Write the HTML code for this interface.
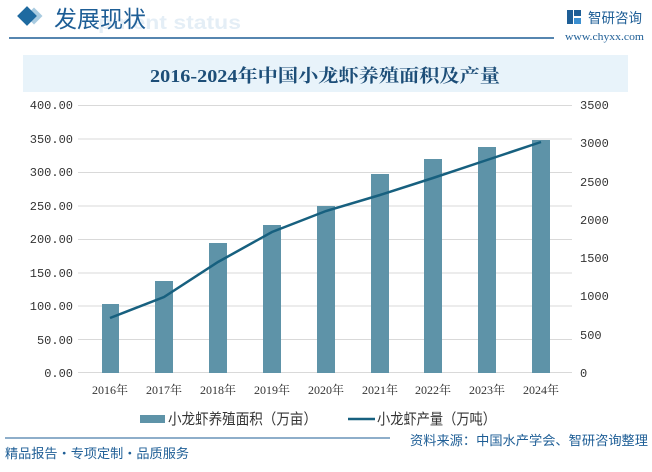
<!DOCTYPE html><html><head><meta charset="utf-8"><style>
body{margin:0;width:652px;height:472px;background:#fff;overflow:hidden;font-family:"Liberation Sans","Noto Sans CJK SC",sans-serif;position:relative}
.a{position:absolute}
</style></head><body>
<svg class="a" style="left:0;top:0" width="652" height="472">
<text x="98" y="29" font-size="19" font-weight="bold" fill="#e4eef6" textLength="143" lengthAdjust="spacingAndGlyphs" font-family="Liberation Sans">pment status</text>
<rect x="28" y="10" width="12" height="12" transform="rotate(45 34 16)" fill="#a9cbe0"/>
<rect x="20" y="9" width="14" height="14" transform="rotate(45 27 16)" fill="#1e6aa0"/>
<text x="54" y="27" font-size="23" fill="#1e5e96" font-family="Noto Sans CJK SC">发展现状</text>
<line x1="9" y1="38" x2="554" y2="38" stroke="#1e5e96" stroke-width="1.5"/>
<rect x="567" y="10" width="6" height="14" fill="#1e5e96"/>
<rect x="574" y="10" width="7" height="6" fill="#1e5e96"/>
<rect x="574" y="18" width="7" height="6" fill="#3b8fd0"/>
<text x="588" y="23" font-size="14" fill="#1e5e96" textLength="54" lengthAdjust="spacingAndGlyphs" font-family="Noto Sans CJK SC">智研咨询</text>
<text x="565" y="40" font-size="10" fill="#1e5e96" textLength="79" lengthAdjust="spacingAndGlyphs" font-family="Liberation Serif">www.chyxx.com</text>
<rect x="23" y="55" width="605" height="37" fill="#e8f3fa"/>
<text x="325" y="82" font-size="18" font-weight="bold" fill="#1d4e78" text-anchor="middle" textLength="350" lengthAdjust="spacingAndGlyphs" font-family="Liberation Serif,Noto Serif CJK SC">2016-2024年中国小龙虾养殖面积及产量</text>
<g stroke="#d9d9d9" stroke-width="1">
<line x1="78" y1="105.5" x2="572" y2="105.5"/><line x1="78" y1="139" x2="572" y2="139"/><line x1="78" y1="172.5" x2="572" y2="172.5"/><line x1="78" y1="206" x2="572" y2="206"/><line x1="78" y1="239.5" x2="572" y2="239.5"/><line x1="78" y1="273" x2="572" y2="273"/><line x1="78" y1="306" x2="572" y2="306"/><line x1="78" y1="339.5" x2="572" y2="339.5"/><line x1="78" y1="372.5" x2="572" y2="372.5"/>
</g>
<g font-size="12" fill="#333" font-family="Liberation Mono,Noto Serif CJK SC">
<g text-anchor="end">
<text x="73" y="109">400.00</text><text x="73" y="143">350.00</text><text x="73" y="176">300.00</text><text x="73" y="210">250.00</text><text x="73" y="243">200.00</text><text x="73" y="277">150.00</text><text x="73" y="310">100.00</text><text x="73" y="344">50.00</text><text x="73" y="377">0.00</text>
</g>
<g>
<text x="580" y="109">3500</text><text x="580" y="147">3000</text><text x="580" y="186">2500</text><text x="580" y="224">2000</text><text x="580" y="262">1500</text><text x="580" y="300">1000</text><text x="580" y="339">500</text><text x="580" y="377">0</text>
</g></g>
<g font-size="12" fill="#333" font-family="Liberation Serif,Noto Serif CJK SC" text-anchor="middle">
<text x="110" y="394">2016年</text><text x="164" y="394">2017年</text><text x="218" y="394">2018年</text><text x="272" y="394">2019年</text><text x="326" y="394">2020年</text><text x="380" y="394">2021年</text><text x="433" y="394">2022年</text><text x="487" y="394">2023年</text><text x="541" y="394">2024年</text>
</g>
<g fill="#5e93a8">
<rect x="102" y="304" width="17" height="69"/><rect x="155" y="281" width="18" height="92"/><rect x="209" y="243" width="18" height="130"/><rect x="263" y="225" width="18" height="148"/><rect x="317" y="206" width="18" height="167"/><rect x="371" y="174" width="18" height="199"/><rect x="424" y="159" width="18" height="214"/><rect x="478" y="147" width="18" height="226"/><rect x="532" y="140" width="18" height="233"/>
</g>
<polyline points="110,318 164,297 218,262 272,232 326,211 380,195 433,178 487,160 541,142" fill="none" stroke="#17607f" stroke-width="2.5"/>
<rect x="140" y="415" width="25" height="8" fill="#5e93a8"/>
<text x="168" y="424" font-size="15" fill="#333" textLength="149" lengthAdjust="spacingAndGlyphs" font-family="Noto Sans CJK SC">小龙虾养殖面积（万亩）</text>
<line x1="348" y1="419" x2="375" y2="419" stroke="#17607f" stroke-width="2.5"/>
<text x="377" y="424" font-size="15" fill="#333" textLength="119" lengthAdjust="spacingAndGlyphs" font-family="Noto Sans CJK SC">小龙虾产量（万吨）</text>
<text x="410" y="445" font-size="13" fill="#1e5e96" textLength="238" lengthAdjust="spacingAndGlyphs" font-family="Noto Sans CJK SC">资料来源：中国水产学会、智研咨询整理</text>
<line x1="5" y1="438" x2="390" y2="438" stroke="#1e5e96" stroke-width="1"/>
<text x="5" y="458" font-size="13" fill="#1e5e96" textLength="184" lengthAdjust="spacingAndGlyphs" font-family="Noto Sans CJK SC">精品报告・专项定制・品质服务</text>
</svg>
</body></html>
